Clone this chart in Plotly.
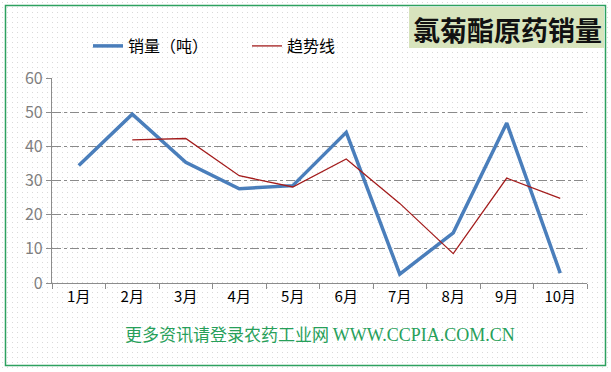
import base64
import plotly.graph_objects as go

months = ["1月", "2月", "3月", "4月", "5月", "6月", "7月", "8月", "9月", "10月"]
sales = [34.4, 49.4, 35.3, 27.6, 28.5, 44.1, 2.6, 14.7, 46.8, 2.9]
trend = [None, 41.9, 42.3, 31.4, 28.1, 36.3, 23.3, 8.6, 30.7, 24.8]

W, H = 611, 372
L, R, T, B = 52, 24, 78, 89
PW, PH = W - L - R, H - T - B

def px_x(p):
    return (p - L) / PW

def px_y(p):
    return (H - B - p) / PH

# dotted background
svg = (
    f'<svg xmlns="http://www.w3.org/2000/svg" width="{W}" height="{H}">'
    '<defs><pattern id="d" width="5" height="5" patternUnits="userSpaceOnUse">'
    '<rect x="2" y="2" width="1" height="1" fill="#d9d9d9"/></pattern></defs>'
    f'<rect width="{W}" height="{H}" fill="url(#d)"/></svg>'
)
src = "data:image/svg+xml;base64," + base64.b64encode(svg.encode()).decode()

fig = go.Figure()
fig.add_trace(go.Scatter(x=months, y=sales, mode="lines", name="销量（吨）",
                         line=dict(color="#4a7ebb", width=3.5)))
fig.add_trace(go.Scatter(x=months, y=trend, mode="lines", name="趋势线",
                         line=dict(color="#a31c1c", width=1.3), connectgaps=False))

footer = ('<span style="font-family:Noto Sans CJK SC">更多资讯请登录农药工业网</span> '
          '<span style="font-family:Liberation Serif;font-size:18px">WWW.CCPIA.COM.CN</span>')

fig.update_layout(
    width=W, height=H,
    margin=dict(l=L, r=R, t=T, b=B, autoexpand=False),
    paper_bgcolor="white",
    plot_bgcolor="rgba(0,0,0,0)",
    font=dict(family="Noto Sans CJK SC, sans-serif", size=14, color="#000"),
    showlegend=True,
    legend=dict(orientation="h", x=px_x(88), xanchor="left", y=px_y(46), yanchor="middle",
                bgcolor="rgba(0,0,0,0)", entrywidth=114, entrywidthmode="pixels",
                font=dict(size=16, color="#000")),
    images=[dict(source=src, xref="paper", yref="paper", x=px_x(0), y=px_y(0),
                 sizex=W / PW, sizey=H / PH, xanchor="left", yanchor="top",
                 sizing="stretch", layer="below")],
    xaxis=dict(type="category", range=[-0.5, 9.5], tickson="boundaries",
               ticks="outside", ticklen=5, tickcolor="#8c8c8c", tickwidth=1,
               showline=True, linecolor="#8c8c8c", linewidth=1.3,
               showgrid=False, zeroline=False,
               tickfont=dict(size=15, color="#000")),
    yaxis=dict(range=[0, 60], dtick=10, tickvals=[0, 10, 20, 30, 40, 50, 60],
               ticks="outside", ticklen=5, tickcolor="#8c8c8c",
               showline=True, linecolor="#8c8c8c", linewidth=1.3,
               showgrid=True, gridcolor="#8a8a8a", griddash="dashdot", gridwidth=1,
               zeroline=False,
               tickfont=dict(size=16, color="#7f7f7f")),
    shapes=[
        dict(type="rect", xref="paper", yref="paper",
             x0=px_x(5.5), x1=px_x(605.5), y0=px_y(365.5), y1=px_y(5.5),
             line=dict(color="#2ea15f", width=1.5), fillcolor="rgba(0,0,0,0)", layer="above"),
        dict(type="rect", xref="paper", yref="paper",
             x0=px_x(409), x1=px_x(604), y0=px_y(48), y1=px_y(7),
             line=dict(width=0), fillcolor="#d8e4bd", layer="above"),
    ],
    annotations=[
        dict(text="<b>氯菊酯原药销量</b>", xref="paper", yref="paper",
             x=px_x(507), y=px_y(29), xanchor="center", yanchor="middle",
             showarrow=False, font=dict(size=27, color="#111",
                                        family="Noto Sans CJK SC, sans-serif")),
        dict(text=footer, xref="paper", yref="paper",
             x=px_x(320), y=px_y(333), xanchor="center", yanchor="middle",
             showarrow=False, font=dict(size=17, color="#27a05a",
                                        family="Noto Sans CJK SC, Liberation Serif, serif")),
    ],
)

fig.write_html("out.html", config={"displayModeBar": False},
               post_script="document.body.style.margin='0';document.body.style.overflow='hidden';")
